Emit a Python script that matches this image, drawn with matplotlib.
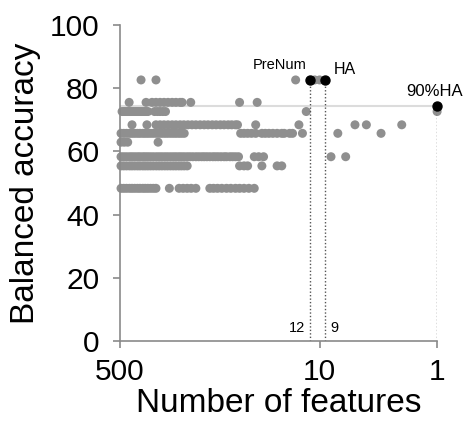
import matplotlib
matplotlib.use("Agg")
import matplotlib.pyplot as plt

plt.rcParams['font.family'] = ['Liberation Sans', 'DejaVu Sans']

# accuracy level of each row of gray points
acc_levels = [82.6, 75.5, 72.6, 68.4, 65.7, 62.9, 58.3, 55.4, 48.3]

# number of features of the gray points on each row
feat_82 = [331, 247, 16, 11, 10]
feat_75 = [418, 300, 267, 247, 228, 211, 195, 180, 167, 154, 148, 125, 48, 34]
feat_72 = [480, 462, 444, 427, 410, 395, 380, 365, 351, 338, 325, 312, 300, 289,
           254, 240, 228, 216, 205, 13, 1]
feat_68 = [395, 295, 247, 228, 211, 195, 180, 167, 154, 143, 132, 122, 113, 104, 96,
           89, 82, 76, 70, 65, 60, 56, 52, 50, 35, 15, 5, 4, 2]
feat_65 = [490, 465, 440, 415, 395, 375, 355, 338, 320, 305, 290, 275, 260, 245, 232,
           220, 208, 197, 186, 176, 167, 158, 150, 142, 47, 44, 41, 38, 35, 31, 29,
           27, 25, 23, 21, 20, 18, 17, 14, 7, 3]
feat_63 = [490, 460, 430, 237]
feat_58 = [490, 465, 440, 415, 395, 375, 355, 338, 320, 305, 290, 275, 260, 245, 232,
           220, 208, 197, 186, 176, 167, 158, 150, 142, 134, 127, 120, 113, 107, 101,
           96, 91, 86, 81, 77, 73, 69, 65, 62, 58, 55, 52, 49, 36, 33, 30, 8, 6]
feat_55 = [490, 465, 440, 415, 395, 375, 355, 338, 320, 305, 290, 275, 260, 245, 232,
           220, 208, 197, 186, 176, 167, 158, 150, 142, 134, 48, 44, 41, 31, 23, 21]
feat_48 = [490, 465, 440, 415, 395, 375, 355, 338, 320, 305, 290, 275, 260, 247, 190,
           157, 145, 134, 124, 113, 86, 80, 74, 68, 62, 57, 52, 48, 44, 40, 36]
rows = [feat_82, feat_75, feat_72, feat_68, feat_65, feat_63, feat_58, feat_55, feat_48]

# highlighted points
hl_labels = ["PreNum", "HA", "90%HA"]
hl_feats = [12, 9, 1]
hl_acc = [82.6, 82.6, 74.5]
ha90 = 74.5

fig = plt.figure(figsize=(4.66, 4.23), dpi=100)
ax = fig.add_axes([0.2575, 0.194, 0.6805, 0.747])

gray = '#8f8f8f'
ax.axhline(ha90, color='#dcdcdc', lw=1.5, zorder=1)
for acc, feats in zip(acc_levels, rows):
    ax.scatter(feats, [acc] * len(feats), s=42, color=gray, edgecolors='none',
               zorder=2, clip_on=False)

for f, a in zip(hl_feats, hl_acc):
    ax.plot([f, f], [0, a], ls=(0, (1, 1.5)), color='#555555', lw=1, zorder=2)
ax.scatter(hl_feats, hl_acc, s=42, color='black', zorder=3, clip_on=False)

ax.annotate(hl_labels[0], (hl_feats[0], hl_acc[0]), xytext=(-3, 6),
            textcoords='offset points', ha='right', va='bottom', fontsize=10.5)
ax.annotate(hl_labels[1], (hl_feats[1], hl_acc[1]), xytext=(6, 2),
            textcoords='offset points', ha='left', va='bottom', fontsize=11.5)
ax.annotate(hl_labels[2], (hl_feats[2], hl_acc[2]), xytext=(-2, 5),
            textcoords='offset points', ha='center', va='bottom', fontsize=12)
ax.annotate(str(hl_feats[0]), (hl_feats[0], 0), xytext=(-4, 4),
            textcoords='offset points', ha='right', va='bottom', fontsize=10.5)
ax.annotate(str(hl_feats[1]), (hl_feats[1], 0), xytext=(4, 4),
            textcoords='offset points', ha='left', va='bottom', fontsize=10.5)

ax.set_xscale('log')
ax.set_xlim(500, 1)
ax.set_ylim(0, 100)
ax.set_xticks([500, 10, 1])
ax.set_xticklabels(['500', '10', '1'])
ax.xaxis.set_minor_locator(matplotlib.ticker.NullLocator())
ax.set_yticks([0, 20, 40, 60, 80, 100])

for s in ['top', 'right']:
    ax.spines[s].set_visible(False)
for s in ['left', 'bottom']:
    ax.spines[s].set_color('#8a8a8a')
    ax.spines[s].set_linewidth(1.2)
ax.tick_params(colors='#8a8a8a', labelcolor='black', labelsize=21.5, length=5,
               width=1.2)
ax.tick_params(axis='x', pad=7)
ax.tick_params(axis='y', pad=10)
ax.set_xlabel('Number of features', fontsize=24, labelpad=2)
ax.set_ylabel('Balanced accuracy', fontsize=24, labelpad=6)

fig.savefig('out.png', dpi=100)
